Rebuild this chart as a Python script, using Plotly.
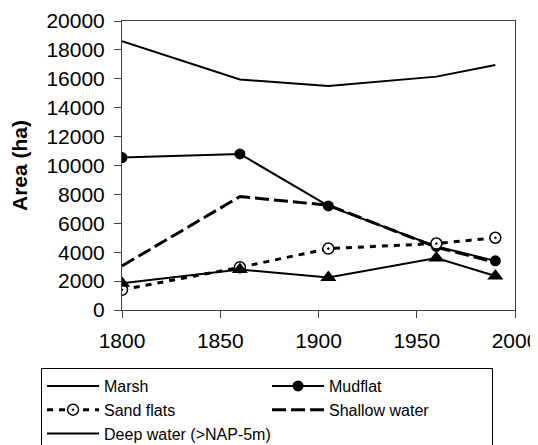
import plotly.graph_objects as go

# years of the surveys
years = [1800, 1860, 1905, 1960, 1990]

# area per habitat type (ha)
marsh = [1850, 2800, 2250, 3600, 2350]
mudflat = [10550, 10800, 7200, 4400, 3400]
sand_flats = [1400, 2950, 4250, 4600, 5000]
shallow_water = [3050, 7850, 7250, 4350, 3300]
deep_water = [18600, 15950, 15500, 16150, 16950]

y_ticks = [0, 2000, 4000, 6000, 8000, 10000, 12000, 14000, 16000, 18000, 20000]
x_ticks = [1800, 1850, 1900, 1950, 2000]

fig = go.Figure()

# Deep water - plain line at the top
fig.add_trace(go.Scatter(x=years, y=deep_water, name='Deep water (>NAP-5m)', mode='lines',
                         line=dict(color='black', width=2), legendrank=5))
# Shallow water - long dashes
fig.add_trace(go.Scatter(x=years, y=shallow_water, name='Shallow water', mode='lines',
                         line=dict(color='black', width=3, dash='14px,5px'), legendrank=4))
# Mudflat - filled circles
fig.add_trace(go.Scatter(x=years, y=mudflat, name='Mudflat', mode='lines+markers',
                         line=dict(color='black', width=2),
                         marker=dict(symbol='circle', size=11, color='black'), legendrank=2))
# Sand flats - dotted with open circles
fig.add_trace(go.Scatter(x=years, y=sand_flats, name='Sand flats', mode='lines+markers',
                         line=dict(color='black', width=3, dash='6px,6px'),
                         marker=dict(symbol='circle-dot', size=11, color='white',
                                     line=dict(color='black', width=1.5)), legendrank=3))
# Marsh - triangles (legend shows only the line, as in the original)
fig.add_trace(go.Scatter(x=years, y=marsh, name='Marsh', mode='lines+markers',
                         line=dict(color='black', width=2),
                         marker=dict(symbol='triangle-up', size=14, color='black'),
                         showlegend=False))
fig.add_trace(go.Scatter(x=[None], y=[None], name='Marsh', mode='lines',
                         line=dict(color='black', width=2), legendrank=1))

fig.update_xaxes(range=[1800, 2000], tickvals=x_ticks, showline=True, linecolor='#404040',
                 linewidth=1, mirror=True, ticks='outside', ticklen=7, tickcolor='#404040',
                 showgrid=False, zeroline=False, automargin=False, ticklabelstandoff=5,
                 ticklabeloverflow='allow',
                 tickfont=dict(family='Liberation Sans, Arial', size=21, color='black'))
fig.update_yaxes(range=[0, 20000], tickvals=y_ticks, tickformat='d', showline=True,
                 linecolor='#404040', linewidth=1, mirror=True, ticks='outside', ticklen=7,
                 tickcolor='#404040', showgrid=False, zeroline=False, automargin=False,
                 ticklabelstandoff=5,
                 tickfont=dict(family='Liberation Sans, Arial', size=21, color='black'),
                 title=dict(text='<b>Area (ha)</b>', standoff=17,
                            font=dict(family='Liberation Sans, Arial', size=21, color='black')))

# the page adds an 8px body margin, so the figure is a bit smaller than the window
fig.update_layout(
    width=534, height=437,
    margin=dict(l=114, r=27, t=13, b=135, autoexpand=False),
    plot_bgcolor='white', paper_bgcolor='white',
    legend=dict(orientation='h', x=-0.206, y=-0.2007, xanchor='left', yanchor='top',
                bordercolor='black', borderwidth=1, bgcolor='white',
                entrywidth=158, itemwidth=52, traceorder='normal',
                font=dict(family='Liberation Sans, Arial', size=16, color='black')),
)

fig.write_html("out.html")
